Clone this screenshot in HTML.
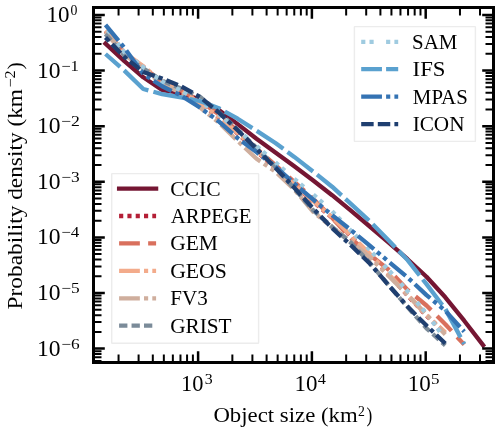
<!DOCTYPE html>
<html><head><meta charset="utf-8"><style>html,body{margin:0;padding:0;background:#fff;width:500px;height:432px;overflow:hidden}</style></head>
<body>
<svg width="500" height="432" viewBox="0 0 500 432" style="display:block">
<rect width="500" height="432" fill="#fff"/>
<g font-family="Liberation Serif" opacity="0.999">
<polyline points="105.5,43.6 124.4,61.1 143.3,77.3 162.1,90.0 181.0,92.8 199.9,99.7 218.8,110.0 237.7,124.1 256.5,138.8 275.4,152.5 294.3,166.3 313.2,180.5 332.1,195.2 350.9,210.6 369.8,226.5 388.7,242.6 407.6,259.2 426.5,276.8 445.3,297.3 464.2,320.7 483.1,345.2" fill="none" stroke="#751633" stroke-width="4.3" stroke-linejoin="round" stroke-linecap="square"/>
<polyline points="105.5,31.0 124.4,53.0 143.3,66.8 162.1,82.9 181.0,91.1 199.9,103.7 218.8,117.2 237.7,133.7 256.5,151.1 275.4,168.2 294.3,185.3 313.2,201.5 332.1,217.8 350.9,235.8 369.8,254.4 388.7,274.6 407.6,295.5 426.5,315.8 445.3,332.9" fill="none" stroke="#b41f36" stroke-width="4.3" stroke-linejoin="round" stroke-linecap="butt" stroke-dasharray="4.15 4.15"/>
<polyline points="105.5,32.0 124.4,53.5 143.3,67.3 162.1,81.7 181.0,90.4 199.9,100.9 218.8,114.4 237.7,131.2 256.5,148.6 275.4,165.2 294.3,181.8 313.2,198.8 332.1,217.8 350.9,238.3 369.8,254.8 388.7,269.7 407.6,289.9 426.5,305.5 445.3,324.2 464.2,344.6" fill="none" stroke="#d9705d" stroke-width="4.3" stroke-linejoin="round" stroke-linecap="butt" stroke-dasharray="20.75 8.3" stroke-dashoffset="26.0"/>
<polyline points="105.5,30.5 124.4,52.5 143.3,66.3 162.1,82.4 181.0,90.6 199.9,103.2 218.8,116.7 237.7,133.2 256.5,150.6 275.4,167.7 294.3,184.8 313.2,201.0 332.1,217.3 350.9,235.3 369.8,253.9 388.7,274.1 407.6,295.0 426.5,315.3 445.3,332.4" fill="none" stroke="#f3ab8b" stroke-width="4.3" stroke-linejoin="round" stroke-linecap="butt" stroke-dasharray="20.75 4.15 4.15 4.15 20.75 4.15 4.15 4.15 4.15 4.15"/>
<polyline points="105.5,32.0 124.4,54.4 143.3,68.3 162.1,84.4 181.0,92.6 199.9,107.4 218.8,122.5 237.7,141.0 256.5,158.7 275.4,171.5 294.3,189.5 313.2,211.8 332.1,227.4 350.9,241.3 369.8,257.5 388.7,276.0 407.6,294.8 426.5,314.7 445.3,334.6" fill="none" stroke="#cfae9d" stroke-width="4.3" stroke-linejoin="round" stroke-linecap="butt" stroke-dasharray="20.75 4.15 4.15 4.15 20.75 4.15 4.15 4.15 4.15 4.15"/>
<polyline points="105.5,34.0 124.4,55.5 143.3,68.4 162.1,80.7 181.0,88.5 199.9,96.7 218.8,112.2 237.7,129.5 256.5,147.8 275.4,166.8 294.3,188.7 313.2,210.3 332.1,226.8 350.9,242.7 369.8,262.8 388.7,285.3 407.6,307.1 426.5,328.3 445.3,345.4" fill="none" stroke="#7b8b99" stroke-width="4.3" stroke-linejoin="round" stroke-linecap="butt" stroke-dasharray="8.3 4.15"/>
<polyline points="105.5,27.0 124.4,52.3 143.3,67.2 162.1,81.7 181.0,90.4 199.9,100.9 218.8,114.4 237.7,129.9 256.5,146.0 275.4,162.4 294.3,179.0 313.2,194.5 332.1,211.1 350.9,230.7 369.8,249.9 388.7,270.1 407.6,291.1 426.5,313.5 445.3,339.1" fill="none" stroke="#9fcbe0" stroke-width="4.3" stroke-linejoin="round" stroke-linecap="butt" stroke-dasharray="4.15 4.15 4.15 12.45" stroke-dashoffset="4.75"/>
<polyline points="105.5,54.0 124.4,70.6 143.3,89.0 162.1,94.1 181.0,97.4 199.9,101.0 218.8,108.2 237.7,118.7 256.5,130.7 275.4,143.0 294.3,156.9 313.2,171.6 332.1,186.7 350.9,203.8 369.8,221.3 388.7,240.5 407.6,260.1 426.5,284.2 445.3,308.9 464.2,344.0" fill="none" stroke="#5aa1cf" stroke-width="4.3" stroke-linejoin="round" stroke-linecap="butt" stroke-dasharray="32.1 5.2" stroke-dashoffset="12.6"/>
<polyline points="105.5,24.8 124.4,47.8 143.3,74.1 162.1,86.3 181.0,95.5 199.9,107.5 218.8,121.4 237.7,138.2 256.5,152.1 275.4,166.7 294.3,183.5 313.2,199.7 332.1,215.1 350.9,230.1 369.8,245.6 388.7,261.7 407.6,277.4 426.5,295.1 445.3,310.7 464.2,331.6" fill="none" stroke="#3473b3" stroke-width="4.3" stroke-linejoin="round" stroke-linecap="butt" stroke-dasharray="20.75 4.15 4.15 4.15 20.75 4.15 4.15 4.15 4.15 4.15" stroke-dashoffset="0.25"/>
<polyline points="105.5,37.5 124.4,57.0 143.3,72.0 162.1,78.5 181.0,86.3 199.9,96.9 218.8,112.5 237.7,130.2 256.5,148.8 275.4,167.8 294.3,187.7 313.2,208.6 332.1,228.1 350.9,245.3 369.8,263.5 388.7,285.3 407.6,306.6 426.5,325.6 445.3,343.5" fill="none" stroke="#1f3f70" stroke-width="4.3" stroke-linejoin="round" stroke-linecap="butt" stroke-dasharray="12.45 4.15 12.45 4.15 4.15 4.15" stroke-dashoffset="7.25"/>
<path d="M93.5,348.62h11.3M493.5,348.62h-11.3M93.5,293.00h11.3M493.5,293.00h-11.3M93.5,237.38h11.3M493.5,237.38h-11.3M93.5,181.76h11.3M493.5,181.76h-11.3M93.5,126.14h11.3M493.5,126.14h-11.3M93.5,70.52h11.3M493.5,70.52h-11.3M93.5,14.90h11.3M493.5,14.90h-11.3M198.10,362.5v-11.3M198.10,7.5v11.3M311.90,362.5v-11.3M311.90,7.5v11.3M425.70,362.5v-11.3M425.70,7.5v11.3" stroke="#000" stroke-width="2.5" fill="none"/>
<path d="M93.5,360.96h8.0M493.5,360.96h-8.0M93.5,357.24h8.0M493.5,357.24h-8.0M93.5,354.01h8.0M493.5,354.01h-8.0M93.5,351.17h8.0M493.5,351.17h-8.0M93.5,331.88h8.0M493.5,331.88h-8.0M93.5,322.08h8.0M493.5,322.08h-8.0M93.5,315.13h8.0M493.5,315.13h-8.0M93.5,309.74h8.0M493.5,309.74h-8.0M93.5,305.34h8.0M493.5,305.34h-8.0M93.5,301.62h8.0M493.5,301.62h-8.0M93.5,298.39h8.0M493.5,298.39h-8.0M93.5,295.55h8.0M493.5,295.55h-8.0M93.5,276.26h8.0M493.5,276.26h-8.0M93.5,266.46h8.0M493.5,266.46h-8.0M93.5,259.51h8.0M493.5,259.51h-8.0M93.5,254.12h8.0M493.5,254.12h-8.0M93.5,249.72h8.0M493.5,249.72h-8.0M93.5,246.00h8.0M493.5,246.00h-8.0M93.5,242.77h8.0M493.5,242.77h-8.0M93.5,239.93h8.0M493.5,239.93h-8.0M93.5,220.64h8.0M493.5,220.64h-8.0M93.5,210.84h8.0M493.5,210.84h-8.0M93.5,203.89h8.0M493.5,203.89h-8.0M93.5,198.50h8.0M493.5,198.50h-8.0M93.5,194.10h8.0M493.5,194.10h-8.0M93.5,190.38h8.0M493.5,190.38h-8.0M93.5,187.15h8.0M493.5,187.15h-8.0M93.5,184.31h8.0M493.5,184.31h-8.0M93.5,165.02h8.0M493.5,165.02h-8.0M93.5,155.22h8.0M493.5,155.22h-8.0M93.5,148.27h8.0M493.5,148.27h-8.0M93.5,142.88h8.0M493.5,142.88h-8.0M93.5,138.48h8.0M493.5,138.48h-8.0M93.5,134.76h8.0M493.5,134.76h-8.0M93.5,131.53h8.0M493.5,131.53h-8.0M93.5,128.69h8.0M493.5,128.69h-8.0M93.5,109.40h8.0M493.5,109.40h-8.0M93.5,99.60h8.0M493.5,99.60h-8.0M93.5,92.65h8.0M493.5,92.65h-8.0M93.5,87.26h8.0M493.5,87.26h-8.0M93.5,82.86h8.0M493.5,82.86h-8.0M93.5,79.14h8.0M493.5,79.14h-8.0M93.5,75.91h8.0M493.5,75.91h-8.0M93.5,73.07h8.0M493.5,73.07h-8.0M93.5,53.78h8.0M493.5,53.78h-8.0M93.5,43.98h8.0M493.5,43.98h-8.0M93.5,37.03h8.0M493.5,37.03h-8.0M93.5,31.64h8.0M493.5,31.64h-8.0M93.5,27.24h8.0M493.5,27.24h-8.0M93.5,23.52h8.0M493.5,23.52h-8.0M93.5,20.29h8.0M493.5,20.29h-8.0M93.5,17.45h8.0M493.5,17.45h-8.0M118.56,362.5v-8.0M118.56,7.5v8.0M138.60,362.5v-8.0M138.60,7.5v8.0M152.81,362.5v-8.0M152.81,7.5v8.0M163.84,362.5v-8.0M163.84,7.5v8.0M172.85,362.5v-8.0M172.85,7.5v8.0M180.47,362.5v-8.0M180.47,7.5v8.0M187.07,362.5v-8.0M187.07,7.5v8.0M192.89,362.5v-8.0M192.89,7.5v8.0M232.36,362.5v-8.0M232.36,7.5v8.0M252.40,362.5v-8.0M252.40,7.5v8.0M266.61,362.5v-8.0M266.61,7.5v8.0M277.64,362.5v-8.0M277.64,7.5v8.0M286.65,362.5v-8.0M286.65,7.5v8.0M294.27,362.5v-8.0M294.27,7.5v8.0M300.87,362.5v-8.0M300.87,7.5v8.0M306.69,362.5v-8.0M306.69,7.5v8.0M346.16,362.5v-8.0M346.16,7.5v8.0M366.20,362.5v-8.0M366.20,7.5v8.0M380.41,362.5v-8.0M380.41,7.5v8.0M391.44,362.5v-8.0M391.44,7.5v8.0M400.45,362.5v-8.0M400.45,7.5v8.0M408.07,362.5v-8.0M408.07,7.5v8.0M414.67,362.5v-8.0M414.67,7.5v8.0M420.49,362.5v-8.0M420.49,7.5v8.0M459.96,362.5v-8.0M459.96,7.5v8.0M480.00,362.5v-8.0M480.00,7.5v8.0" stroke="#000" stroke-width="2.0" fill="none"/>
<rect x="93.5" y="7.5" width="400.0" height="355.0" fill="none" stroke="#000" stroke-width="3"/>
<text transform="matrix(1.14943 0 0 1.10687 46.431 21.900)" font-size="20" fill="#000" >10</text>
<text transform="matrix(0.69048 0 0 0.76336 70.448 15.000)" font-size="20" fill="#000" >0</text>
<text transform="matrix(1.17816 0 0 1.10687 36.879 77.520)" font-size="20" fill="#000" >10</text>
<text transform="matrix(0.83158 0 0 0.74046 61.168 70.620)" font-size="20" fill="#000" >−1</text>
<text transform="matrix(1.17816 0 0 1.10687 36.879 133.140)" font-size="20" fill="#000" >10</text>
<text transform="matrix(0.88542 0 0 0.74046 61.115 126.240)" font-size="20" fill="#000" >−2</text>
<text transform="matrix(1.17816 0 0 1.10687 36.879 188.760)" font-size="20" fill="#000" >10</text>
<text transform="matrix(0.86735 0 0 0.74046 61.133 181.860)" font-size="20" fill="#000" >−3</text>
<text transform="matrix(1.17816 0 0 1.10687 36.879 244.380)" font-size="20" fill="#000" >10</text>
<text transform="matrix(0.85000 0 0 0.74046 61.150 237.480)" font-size="20" fill="#000" >−4</text>
<text transform="matrix(1.17816 0 0 1.10687 36.879 300.000)" font-size="20" fill="#000" >10</text>
<text transform="matrix(0.86735 0 0 0.74046 61.133 293.100)" font-size="20" fill="#000" >−5</text>
<text transform="matrix(1.17816 0 0 1.10687 36.879 355.620)" font-size="20" fill="#000" >10</text>
<text transform="matrix(0.86735 0 0 0.74046 61.133 348.720)" font-size="20" fill="#000" >−6</text>
<text transform="matrix(1.12069 0 0 1.11450 180.983 390.800)" font-size="20" fill="#000" >10</text>
<text transform="matrix(0.79268 0 0 0.74809 204.707 383.800)" font-size="20" fill="#000" >3</text>
<text transform="matrix(1.14943 0 0 1.11450 294.431 390.800)" font-size="20" fill="#000" >10</text>
<text transform="matrix(0.81522 0 0 0.74809 317.674 383.800)" font-size="20" fill="#000" >4</text>
<text transform="matrix(1.14943 0 0 1.11450 407.731 390.800)" font-size="20" fill="#000" >10</text>
<text transform="matrix(0.85000 0 0 0.74809 430.980 383.800)" font-size="20" fill="#000" >5</text>
<text transform="matrix(1.13955 0 0 1.00000 213.388 422.200)" font-size="20" fill="#000" >Object size (km</text>
<text transform="matrix(0.68750 0 0 0.74809 357.950 416.000)" font-size="20" fill="#000" >2</text>
<text transform="matrix(0.86538 0 0 1.00000 366.481 422.200)" font-size="20" fill="#000" >)</text>
<text transform="matrix(0 -1.16755 1.02290 0 21.800 309.401)" font-size="20" fill="#000">Probability density (km</text>
<text transform="matrix(0 -0.80208 0.74046 0 14.800 87.502)" font-size="20" fill="#000">−2</text>
<text transform="matrix(0 -1.09615 1.02290 0 21.800 69.558)" font-size="20" fill="#000">)</text>
<rect x="354.4" y="26.6" width="121.00" height="114.80" fill="#fff" fill-opacity="0.8" stroke="#ececec" stroke-width="1.4" rx="0.5"/>
<path d="M361.2,41.80h37" stroke="#9fcbe0" stroke-width="4.3" fill="none" stroke-dasharray="4.15 4.15 4.15 12.45"/>
<text transform="matrix(1.04589 0 0 1.05344 412.036 48.700)" font-size="20" fill="#000" >SAM</text>
<path d="M361.2,69.22h37" stroke="#5aa1cf" stroke-width="4.3" fill="none" stroke-dasharray="20.75 4.15"/>
<text transform="matrix(1.13806 0 0 1.05344 412.590 76.120)" font-size="20" fill="#000" >IFS</text>
<path d="M361.2,96.64h37" stroke="#3473b3" stroke-width="4.3" fill="none" stroke-dasharray="20.75 4.15 4.15 4.15 20.75 4.15 4.15 4.15 4.15 4.15"/>
<text transform="matrix(1.04331 0 0 1.05344 412.874 103.540)" font-size="20" fill="#000" >MPAS</text>
<path d="M361.2,124.06h37" stroke="#1f3f70" stroke-width="4.3" fill="none" stroke-dasharray="12.45 4.15 12.45 4.15 4.15 4.15"/>
<text transform="matrix(1.06092 0 0 1.05344 412.651 130.960)" font-size="20" fill="#000" >ICON</text>
<rect x="111.7" y="173.6" width="146.90" height="169.70" fill="#fff" fill-opacity="0.8" stroke="#ececec" stroke-width="1.4" rx="0.5"/>
<path d="M119.1,188.60h37" stroke="#751633" stroke-width="4.3" fill="none" stroke-linecap="square"/>
<text transform="matrix(1.08036 0 0 1.05344 170.136 195.500)" font-size="20" fill="#000" >CCIC</text>
<path d="M119.1,216.02h37" stroke="#b41f36" stroke-width="4.3" fill="none" stroke-dasharray="4.15 4.15"/>
<text transform="matrix(1.03916 0 0 1.05344 170.792 222.920)" font-size="20" fill="#000" >ARPEGE</text>
<path d="M119.1,243.44h37" stroke="#d9705d" stroke-width="4.3" fill="none" stroke-dasharray="20.75 8.3"/>
<text transform="matrix(1.07442 0 0 1.05344 170.140 250.340)" font-size="20" fill="#000" >GEM</text>
<path d="M119.1,270.86h37" stroke="#f3ab8b" stroke-width="4.3" fill="none" stroke-dasharray="20.75 4.15 4.15 4.15 20.75 4.15 4.15 4.15 4.15 4.15"/>
<text transform="matrix(1.08765 0 0 1.05344 170.130 277.760)" font-size="20" fill="#000" >GEOS</text>
<path d="M119.1,298.28h37" stroke="#cfae9d" stroke-width="4.3" fill="none" stroke-dasharray="20.75 4.15 4.15 4.15 20.75 4.15 4.15 4.15 4.15 4.15"/>
<text transform="matrix(1.05263 0 0 1.05344 170.368 305.180)" font-size="20" fill="#000" >FV3</text>
<path d="M119.1,325.70h37" stroke="#7b8b99" stroke-width="4.3" fill="none" stroke-dasharray="8.3 4.15"/>
<text transform="matrix(1.06360 0 0 1.05344 170.149 332.600)" font-size="20" fill="#000" >GRIST</text>
</g></svg>
</body></html>
